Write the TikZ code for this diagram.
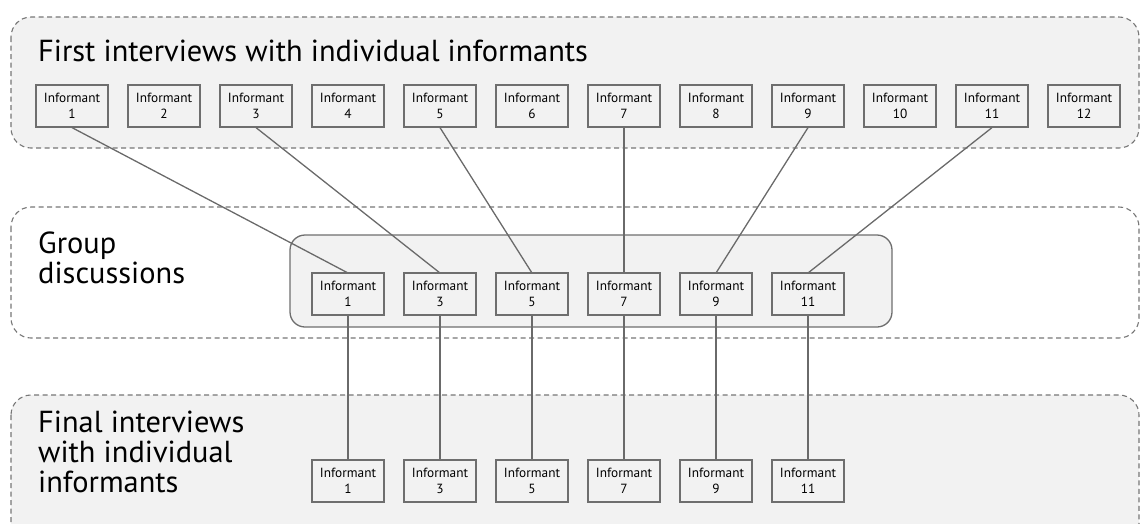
\documentclass[tikz,border=0pt]{standalone}
\usepackage{fontspec}
\setmainfont{PT Sans}
\definecolor{lightgrey}{HTML}{F2F2F2}
\definecolor{boxgrey}{HTML}{6E6E6E}
\definecolor{bandgrey}{HTML}{777777}
\definecolor{linegrey}{HTML}{6A6A6A}
\begin{document}
\begin{tikzpicture}[x=1pt,y=-1pt,
  band/.style={draw=bandgrey, dash pattern=on 5pt off 3.5pt, line width=1.1pt, rounded corners=20pt},
  group/.style={draw=boxgrey, fill=lightgrey, line width=1.3pt, rounded corners=15pt},
  inf/.style={draw=boxgrey, fill=lightgrey, line width=1.2pt, minimum width=72pt, minimum height=42pt,
              inner sep=0pt, align=center, font=\fontsize{13.3}{15.5}\selectfont},
  link/.style={draw=linegrey, line width=1.3pt},
  title/.style={anchor=base west, font=\fontsize{30.4}{30}\selectfont, align=left, inner sep=0pt}]
\useasboundingbox (0,0) rectangle (1140,523);
% bands
\path[band, fill=lightgrey] (11,17) rectangle (1139,148);
\path[band] (11,207) rectangle (1139,338);
\path[band, fill=lightgrey] (11,395) rectangle (1139,545);
\path[group] (290,235) rectangle (892,327);
% titles (base anchor = baseline of last line)
\node[title] (t1) at (38,61) {First interviews with individual informants};
\node[title] (t2) at (38,283) {Group\\discussions};
\node[title] (t3) at (38,492) {Final interviews\\with individual\\informants};
% top row nodes
\foreach \i in {1,...,12} {
  \node[inf] (a\i) at ({72+92*(\i-1)},106) {Informant\\\i};
}
% middle and bottom rows (coordinates)
\foreach \i/\k in {1/0,3/1,5/2,7/3,9/4,11/5} {
  \coordinate (bpos\i) at ({348+92*\k},294);
  \coordinate (cpos\i) at ({348+92*\k},481);
}
% links
\foreach \i in {1,3,5,7,9,11} {
  \path (bpos\i) ++(0,-21) coordinate (btop\i);
  \path (bpos\i) ++(0,21) coordinate (bbot\i);
  \path (cpos\i) ++(0,-21) coordinate (ctop\i);
  \draw[link] (a\i.south) -- (btop\i);
  \draw[link] (bbot\i) -- (ctop\i);
}
\foreach \i in {1,3,5,7,9,11} {
  \node[inf] (b\i) at (bpos\i) {Informant\\\i};
  \node[inf] (c\i) at (cpos\i) {Informant\\\i};
}
\end{tikzpicture}
\end{document}
